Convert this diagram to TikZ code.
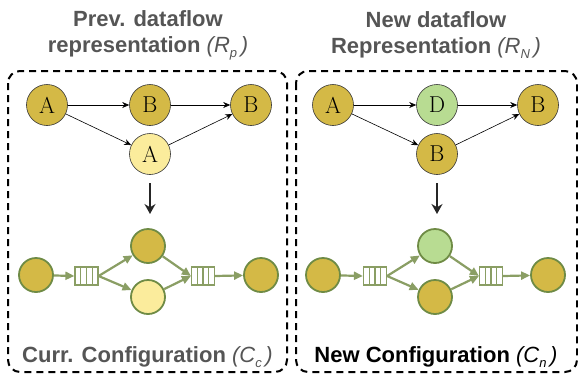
\documentclass[tikz,border=0pt]{standalone}
\usepackage{fontspec}
\setsansfont{Liberation Sans}
\usepackage{tikz}
\usetikzlibrary{arrows.meta,
                positioning,
                calc}
\definecolor{goldfill}{HTML}{D4B946}
\definecolor{palefill}{HTML}{FBEC9C}
\definecolor{mintfill}{HTML}{B8DC92}
\definecolor{flowgreen}{HTML}{8A9E64}
\definecolor{ringgreen}{HTML}{6F8B45}
\definecolor{titlegray}{HTML}{555555}
\tikzset{
        base/.style={circle, draw=black!80, line width=0.6pt, minimum size=41pt,
                     inner sep=0pt, font=\fontsize{23}{25}\selectfont},
        gold/.style={base, fill=goldfill},
        pale/.style={base, fill=palefill},
        mint/.style={base, fill=mintfill},
        inst/.style={circle, draw=ringgreen, line width=1.8pt, minimum size=34pt,
                     inner sep=0pt},
        queue/.style={draw=flowgreen, line width=1.2pt, minimum width=23pt,
                      minimum height=18pt, inner sep=0pt,
                      path picture={
                        \foreach \f in {0.25,0.5,0.75}
                          \draw[flowgreen, line width=1.2pt]
                            ($(path picture bounding box.north west)!\f!(path picture bounding box.north east)$)
                            -- ($(path picture bounding box.south west)!\f!(path picture bounding box.south east)$);
                      }},
        dashbox/.style={draw, line width=2pt, dash pattern=on 7pt off 5pt, rounded corners=12pt},
        title/.style={align=center, text=titlegray,
                      font=\sffamily\bfseries\fontsize{22}{26}\selectfont},
        myarrow/.style={-{Stealth[length=7pt,width=6pt]}, line width=0.6pt},
        downarrow/.style={-{Stealth[length=10pt,width=11pt]}, line width=1.6pt, black!85},
        flowarrow/.style={-{Triangle[length=9pt,width=8pt]}, line width=2.2pt, flowgreen},
 }
\newcommand{\subit}[2]{{\mdseries\itshape (#1\raisebox{-0.45ex}{\fontsize{13}{13}\selectfont #2}\,)}}

\begin{document}
\begin{tikzpicture}[x=1pt, y=-1pt, node distance=103pt]
    \useasboundingbox (0,0) rectangle (578,376);

    % frames
    \draw[dashbox] (8,71) rectangle (287,372);
    \draw[dashbox] (296,71) rectangle (577,372);

    % titles
    \node[title] (tp) at (148,35) {Prev. dataflow\\representation \subit{R}{p}};
    \node[title] (tn) at (436,35) {New dataflow\\Representation \subit{R}{N}};
    \node[title, anchor=base] (cp) at (147.5,362) {Curr. Configuration \subit{C}{c}};
    \node[title, anchor=base, text=black] (cn) at (436,362) {New Configuration \subit{C}{n}};

    % previous representation
    \node[gold] (pa) at (47,105) {A};
    \node[gold, on grid, right=of pa] (pb) {B};
    \node[gold, on grid, right=101pt of pb] (pc) {B};
    \node[pale, on grid, below=49pt of pb] (pd) {A};

    \draw[myarrow] (pa) -- (pb);
    \draw[myarrow] (pb) -- (pc);
    \draw[myarrow] (pa) -- (pd);
    \draw[myarrow] (pd) -- (pc);

    % new representation
    \node[gold] (na) at (333,105) {A};
    \node[mint, on grid, right=104pt of na] (nd) {D};
    \node[gold, on grid, right=101pt of nd] (nb) {B};
    \node[gold, on grid, below=49pt of nd] (nc) {B};

    \draw[myarrow] (na) -- (nd);
    \draw[myarrow] (nd) -- (nb);
    \draw[myarrow] (na) -- (nc);
    \draw[myarrow] (nc) -- (nb);

    % current configuration
    \node[inst, fill=goldfill] (ca) at (36,275) {};
    \node[queue] (cq1) at (86.5,276) {};
    \node[inst, fill=goldfill] (cb) at (148,246) {};
    \node[inst, fill=palefill] (cc) at (148,297) {};
    \node[queue] (cq2) at (203,276) {};
    \node[inst, fill=goldfill] (cd) at (261,275) {};

    \draw[flowarrow] (ca) -- (cq1.west);
    \draw[flowarrow] (cq1.east) -- (cb);
    \draw[flowarrow] (cq1.east) -- (cc);
    \draw[flowarrow] (cb) -- (cq2.west);
    \draw[flowarrow] (cc) -- (cq2.west);
    \draw[flowarrow] (cq2.east) -- (cd);

    % new configuration
    \node[inst, fill=goldfill] (ma) at (323,275) {};
    \node[queue] (mq1) at (375,276) {};
    \node[inst, fill=mintfill] (mb) at (435,246) {};
    \node[inst, fill=goldfill] (mc) at (435,297) {};
    \node[queue] (mq2) at (491,276) {};
    \node[inst, fill=goldfill] (md) at (548,275) {};

    \draw[flowarrow] (ma) -- (mq1.west);
    \draw[flowarrow] (mq1.east) -- (mb);
    \draw[flowarrow] (mq1.east) -- (mc);
    \draw[flowarrow] (mb) -- (mq2.west);
    \draw[flowarrow] (mc) -- (mq2.west);
    \draw[flowarrow] (mq2.east) -- (md);

    % mapping arrows
    \coordinate (pdown) at (150,183);
    \coordinate (ndown) at (437,183);
    \draw[downarrow] (pdown) -- (pdown |- 0,214);
    \draw[downarrow] (ndown) -- (ndown |- 0,214);
\end{tikzpicture}
\end{document}
